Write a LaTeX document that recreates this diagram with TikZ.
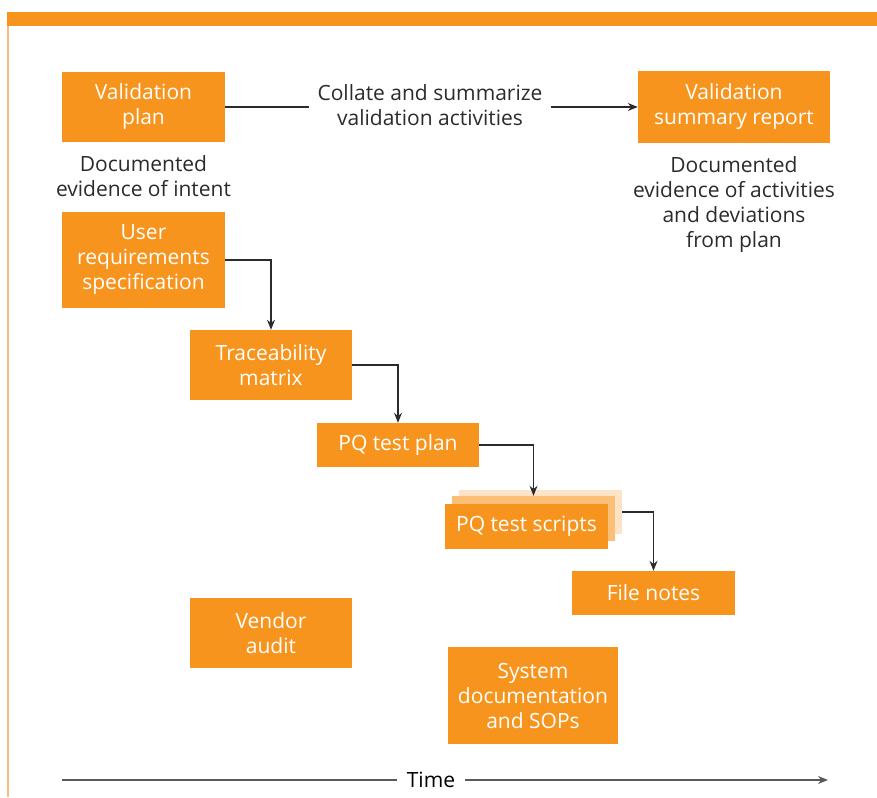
\documentclass[tikz,border=0pt]{standalone}
\usepackage{fontspec}
\setmainfont{Open Sans}
\usetikzlibrary{arrows.meta,positioning}
\definecolor{vorange}{HTML}{F7941D}
\definecolor{vpale}{HTML}{FBBF77}
\definecolor{vpaler}{HTML}{FDE4C6}
\definecolor{vedge}{HTML}{F9BA7E}
\definecolor{vline}{HTML}{2B2B2B}
\tikzset{
    %Define standard arrow tip
    >={Stealth[length=10pt,width=8pt]},
    %Define style for boxes
    box/.style={
           rectangle,
           fill=vorange,
           text=white,
           minimum width=163pt,
           minimum height=44pt,
           inner sep=0pt,
           align=center,
           font=\fontsize{21}{25}\selectfont},
    % Define style for plain texts
    note/.style={
           align=center,
           inner sep=0pt,
           text=vline,
           font=\fontsize{21}{25}\selectfont},
    % Define arrow style
    flow/.style={
           ->,
           draw=vline,
           line width=1.2pt},
    plain/.style={
           draw=vline,
           line width=1.2pt},
    timeline/.style={
           draw=black!65,
           line width=1.3pt}
}
\begin{document}
\begin{tikzpicture}[x=1pt,y=-1pt]
 \useasboundingbox (0,0) rectangle (877,797);
 %frame
    \fill[vorange] (7,12) rectangle (877,26);
    \draw[vedge, line width=1.5pt] (7.75,26) -- (7.75,797);
 %nodes
    \node[box, minimum height=70pt] (vplan) at (143.5,107) {Validation\\plan};
    \node[box, minimum width=192pt, minimum height=72pt] (vsum) at (734,107) {Validation\\summary report};
    \node[note, inner sep=8pt] (collate) at (430,105) {Collate and summarize\\validation activities};
    \node[note, below=13pt of vplan] (intent) {Documented\\evidence of intent};
    \node[note, below=13pt of vsum] (deviate) {Documented\\evidence of activities\\and deviations\\from plan};
    \node[box, minimum height=96pt] (urs) at (143.5,260) {User\\requirements\\specification};
    \node[box, minimum width=162pt, minimum height=70pt] (trace) at (271,365) {Traceability\\matrix};
    \node[box, minimum width=162pt] (pqplan) at (398,445) {PQ test plan};
    \node[box, fill=vpaler] (scriptsback) at (540.5,512) {};
    \node[box, fill=vpale, minimum height=45pt] (scriptsmid) at (533.5,518.5) {};
    \node[box, minimum height=45pt] (scripts) at (526.5,526.5) {PQ test scripts};
    \node[box] (fnotes) at (653.5,593) {File notes};
    \node[box, minimum width=162pt, minimum height=70pt] (vendor) at (271,633) {Vendor\\audit};
    \node[box, minimum width=170pt, minimum height=97pt] (sysdoc) at (533,695.5) {System\\documentation\\and SOPs};
    \node[note, text=black, inner sep=10pt] (time) at (431,780) {Time};
    \coordinate (tstart) at (62,780);
    \coordinate (tend) at (828,780);
 %edges
    \draw[plain] (vplan.east) -- (vplan.east -| collate.west);
    \draw[flow] (vsum.west -| collate.east) -- (vsum.west);
    \draw[flow] (urs.east) -| (trace.north);
    \draw[flow] (trace.east) -| (pqplan.north);
    \draw[flow] (pqplan.east) -| (scriptsmid.north);
    \draw[flow] (scriptsback.east) -| (fnotes.north);
    \draw[timeline] (tstart) -- (tstart -| time.west);
    \draw[timeline, ->] (tend -| time.east) -- (tend);
\end{tikzpicture}
\end{document}
